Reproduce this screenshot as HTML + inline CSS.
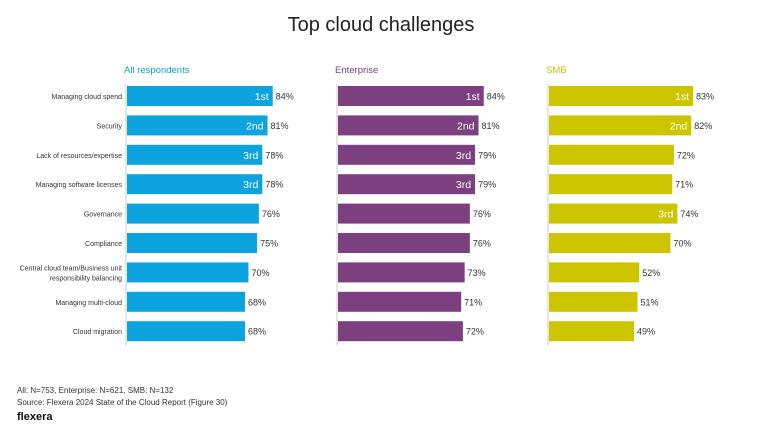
<!DOCTYPE html>
<html><head><meta charset="utf-8"><style>
body{margin:0;background:#fff;font-family:"Liberation Sans",sans-serif;}
svg text{font-family:"Liberation Sans",sans-serif;}
</style></head><body>
<svg id="c" width="763" height="438" xmlns="http://www.w3.org/2000/svg">
<text x="381" y="31" text-anchor="middle" font-size="20" fill="#222">Top cloud challenges</text>
<text x="17" y="393" font-size="8" fill="#333">All: N=753, Enterprise: N=621, SMB: N=132</text>
<text x="17" y="405" font-size="8" fill="#333">Source: Flexera 2024 State of the Cloud Report (Figure 30)</text>
<text x="17" y="420" font-size="11" font-weight="bold" fill="#111">flexera</text>
</svg>
<script>
const categories=["Managing cloud spend","Security","Lack of resources/expertise","Managing software licenses","Governance","Compliance","Central cloud team/Business unit|responsibility balancing","Managing multi-cloud","Cloud migration"];
const allValues=[84,81,78,78,76,75,70,68,68];
const allRanks=["1st","2nd","3rd","3rd","","","","",""];
const entValues=[84,81,79,79,76,76,73,71,72];
const entRanks=["1st","2nd","3rd","3rd","","","","",""];
const smbValues=[83,82,72,71,74,70,52,51,49];
const smbRanks=["1st","2nd","","","3rd","","","",""];
const panelTitles=["All respondents","Enterprise","SMB"];
const svg=document.getElementById('c');
const NS='http://www.w3.org/2000/svg';
const scale=1.735;
const y=i=>96+i*29.4;
function mk(t,a){const e=document.createElementNS(NS,t);for(const k in a)e.setAttribute(k,a[k]);svg.appendChild(e);return e;}
categories.forEach((c,i)=>{
  const parts=c.split('|');
  parts.forEach((p,j)=>{
    const t=mk('text',{x:122,y:y(i)+3-(parts.length-1)*5+j*10,'text-anchor':'end','font-size':7,fill:'#333'});
    t.textContent=p;
    
    
  });
});
const panels=[[127,allValues,allRanks,'#0ca3de'],[338,entValues,entRanks,'#7c3f80'],[549,smbValues,smbRanks,'#cdc500']];
panels.forEach(([x0,vals,ranks,col],p)=>{
  const h=mk('text',{x:x0-3,y:73,'font-size':9.5,fill:col});
  h.textContent=panelTitles[p];
  
  
  const ax=mk('line',{x1:x0-1,x2:x0-1,y1:84,y2:346,stroke:'#ccc','stroke-width':1});
  
  
  vals.forEach((v,i)=>{
    const w=v*scale;
    const r=mk('rect',{x:x0,y:y(i)-10,width:w,height:20,fill:col});
    
    
    const l=mk('text',{x:x0+w+3,y:y(i)+3.5,'font-size':9,fill:'#333'});
    l.textContent=v+'%';
    
    
    if(ranks[i]){
      const rk=mk('text',{x:x0+w-4,y:y(i)+4,'text-anchor':'end','font-size':10.5,fill:'#fff'});
      rk.textContent=ranks[i];
      
      
    }
  });
});
</script>
</body></html>
